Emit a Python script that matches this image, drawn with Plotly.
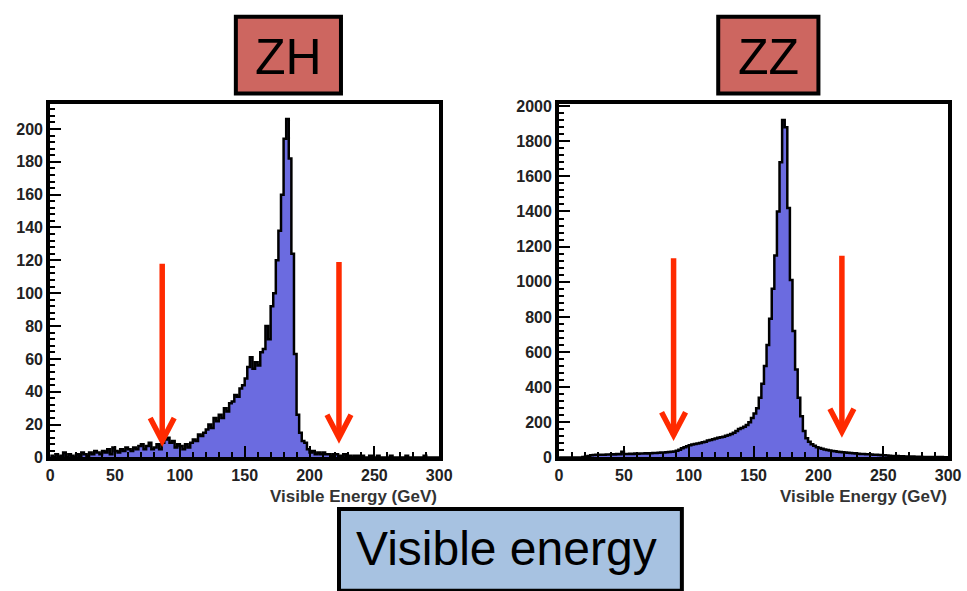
import plotly.graph_objects as go

W, H = 967, 591

# ---------------- data ----------------
bin_width = 2.0          # GeV
x_range = [0, 300]
x_ticks = [0, 50, 100, 150, 200, 250, 300]

zh_counts = [
    1, 0, 2, 0, 1, 3, 0, 2, 1, 0,
    2, 1, 3, 2, 1, 3, 2, 4, 3, 2,
    4, 3, 5, 2, 6, 4, 3, 5, 4, 6,
    5, 4, 6, 5, 7, 8, 5, 7, 9, 5,
    6, 8, 5, 9, 11, 12, 9, 10, 6, 8,
    7, 5, 8, 6, 9, 11, 10, 14, 13, 15,
    17, 20, 18, 24, 22, 26, 24, 30, 28, 33,
    34, 38, 37, 42, 44, 48, 55, 61, 54, 58,
    56, 64, 66, 80, 72, 92, 100, 120, 138, 160,
    194, 206, 182, 124, 63, 26, 15, 10, 9, 5,
    3, 4, 2, 3, 2, 3, 2, 2, 1, 2,
    2, 1, 1, 2, 1, 1, 0, 1, 1, 0,
    1, 0, 0, 1, 0, 0, 1, 0, 0, 0,
    0, 1, 0, 0, 0, 0, 0, 1, 0, 0,
    0, 0, 0, 0, 1, 0, 0, 0, 0, 0,
]

zz_counts = [
    0, 0, 0, 0, 0, 0, 0, 0, 0, 2,
    5, 8, 12, 14, 15,
    15, 16, 16, 17, 17,
    18, 17, 19, 18, 32,
    20, 19, 21, 20, 22,
    21, 22, 23, 24, 23,
    24, 25, 26, 27, 28,
    28, 29, 31, 32, 34,
    38, 44, 52, 58, 64,
    70, 74, 76, 80, 82,
    86, 90, 96, 100, 104,
    108, 112, 115, 118, 124,
    128, 134, 140, 150, 162,
    168, 175, 185, 200, 225,
    250, 280, 340, 420, 520,
    640, 790, 960, 1150, 1400,
    1680, 1920, 1880, 1420, 1010,
    720, 500, 340, 235, 150,
    110, 90, 75, 66, 58,
    54, 50, 46, 42, 39,
    37, 35, 33, 31, 30,
    28, 27, 25, 24, 22,
    21, 20, 19, 18, 18,
    17, 16, 15, 14, 13,
    12, 11, 10, 9, 8,
    8, 7, 7, 6, 6,
    5, 5, 4, 4, 4,
    3, 3, 3, 3, 2,
    2, 2, 2, 1, 1,
]

zh_y_range = [0, 215]
zh_y_ticks = list(range(0, 201, 20))
zz_y_range = [0, 2010]
zz_y_ticks = list(range(0, 2001, 200))

# cut positions (GeV) and arrow extents (counts)
zh_cuts = [86.4, 222.7]
zh_arrow_top = [118, 119]
zh_arrow_tip = [10, 12]
zz_cuts = [88.3, 218.1]
zz_arrow_top = [1134, 1148]
zz_arrow_tip = [127, 146]

panel_titles = ["ZH", "ZZ"]
x_title = "Visible Energy (GeV)"
bottom_label = "Visible energy"

# ---------------- styling ----------------
FILL = "#6b6be0"
RED = "#ff2a00"
TITLE_FILL = "#cd6660"
LABEL_FILL = "#a7c2e1"
FONT = "Liberation Sans"


def fx(px):
    return px / W


def fy(py):
    return 1 - py / H


def step(counts):
    xs = [x_range[0] + i * bin_width for i in range(len(counts) + 1)]
    ys = list(counts) + [counts[-1]]
    return xs, ys


fig = go.Figure()

for counts, xa, ya in [(zh_counts, "x", "y"), (zz_counts, "x2", "y2")]:
    xs, ys = step(counts)
    fig.add_trace(go.Scatter(
        x=xs, y=ys, xaxis=xa, yaxis=ya, mode="lines",
        line=dict(shape="hv", color="black", width=2.5),
        fill="tozeroy", fillcolor=FILL, showlegend=False, hoverinfo="skip",
    ))

tickfont = dict(family=FONT, size=16, color="#222222", weight="bold")


def xaxis_cfg(dom, anchor):
    return dict(
        domain=dom, anchor=anchor, range=x_range, tickvals=x_ticks,
        ticks="inside", ticklen=11, tickwidth=1.5, tickcolor="black",
        minor=dict(dtick=10, ticks="inside", ticklen=5, tickwidth=1.5, tickcolor="black"),
        showline=True, linewidth=4, linecolor="black", mirror=True,
        showgrid=False, zeroline=False, tickfont=tickfont, ticklabelstandoff=0,
    )


def yaxis_cfg(dom, anchor, rng, tv, minor_dt):
    return dict(
        domain=dom, anchor=anchor, range=rng, tickvals=tv,
        ticks="inside", ticklen=11, tickwidth=1.5, tickcolor="black",
        minor=dict(dtick=minor_dt, ticks="inside", ticklen=5, tickwidth=1.5, tickcolor="black"),
        showline=True, linewidth=4, linecolor="black", mirror=True,
        showgrid=False, zeroline=False, tickfont=tickfont, ticklabelstandoff=0,
    )


ydom = [fy(463), fy(100)]
fig.update_layout(
    width=W, height=H, margin=dict(l=0, r=0, t=0, b=0),
    paper_bgcolor="white", plot_bgcolor="white",
    xaxis=xaxis_cfg([fx(47), fx(443)], "y"),
    yaxis=yaxis_cfg(ydom, "x", zh_y_range, zh_y_ticks, 4),
    xaxis2=xaxis_cfg([fx(565), fx(961)], "y2"),
    yaxis2=yaxis_cfg(ydom, "x2", zz_y_range, zz_y_ticks, 40),
)

shapes = []
annotations = []

# arrows
for cuts, tops, tips, xr, yr in [
    (zh_cuts, zh_arrow_top, zh_arrow_tip, "x", "y"),
    (zz_cuts, zz_arrow_top, zz_arrow_tip, "x2", "y2"),
]:
    for c, t, b in zip(cuts, tops, tips):
        shapes.append(dict(type="line", xref=xr, yref=yr, x0=c, x1=c, y0=t, y1=b,
                           line=dict(color=RED, width=5.5)))
        shapes.append(dict(type="path", xref=xr, yref=yr,
                           xsizemode="pixel", ysizemode="pixel", xanchor=c, yanchor=b,
                           path="M -12,23 L 0,0 L 12,23",
                           line=dict(color=RED, width=5.5)))

# title boxes
for title, (x0, x1) in zip(panel_titles, [(236, 343), (727, 829)]):
    shapes.append(dict(type="rect", xref="paper", yref="paper",
                       x0=fx(x0), x1=fx(x1), y0=fy(89), y1=fy(10),
                       fillcolor=TITLE_FILL, line=dict(color="black", width=4), layer="above"))
    annotations.append(dict(text=title, xref="paper", yref="paper",
                            x=fx((x0 + x1) / 2), y=fy(51), xanchor="center", yanchor="middle",
                            showarrow=False, font=dict(family=FONT, size=50, color="black")))

# bottom label box
shapes.append(dict(type="rect", xref="paper", yref="paper",
                   x0=fx(341), x1=fx(690), y0=fy(600), y1=fy(516),
                   fillcolor=LABEL_FILL, line=dict(color="black", width=4), layer="above"))
annotations.append(dict(text=bottom_label, xref="paper", yref="paper",
                        x=fx(512), y=fy(557), xanchor="center", yanchor="middle",
                        showarrow=False, font=dict(family=FONT, size=48, color="black")))

# axis titles
for xr in [443, 962]:
    annotations.append(dict(text=x_title, xref="paper", yref="paper",
                            x=fx(xr), y=fy(503), xanchor="right", yanchor="middle",
                            showarrow=False,
                            font=dict(family=FONT, size=17, color="#333333", weight="bold")))

fig.update_layout(shapes=shapes, annotations=annotations)
fig.write_html("out.html")
